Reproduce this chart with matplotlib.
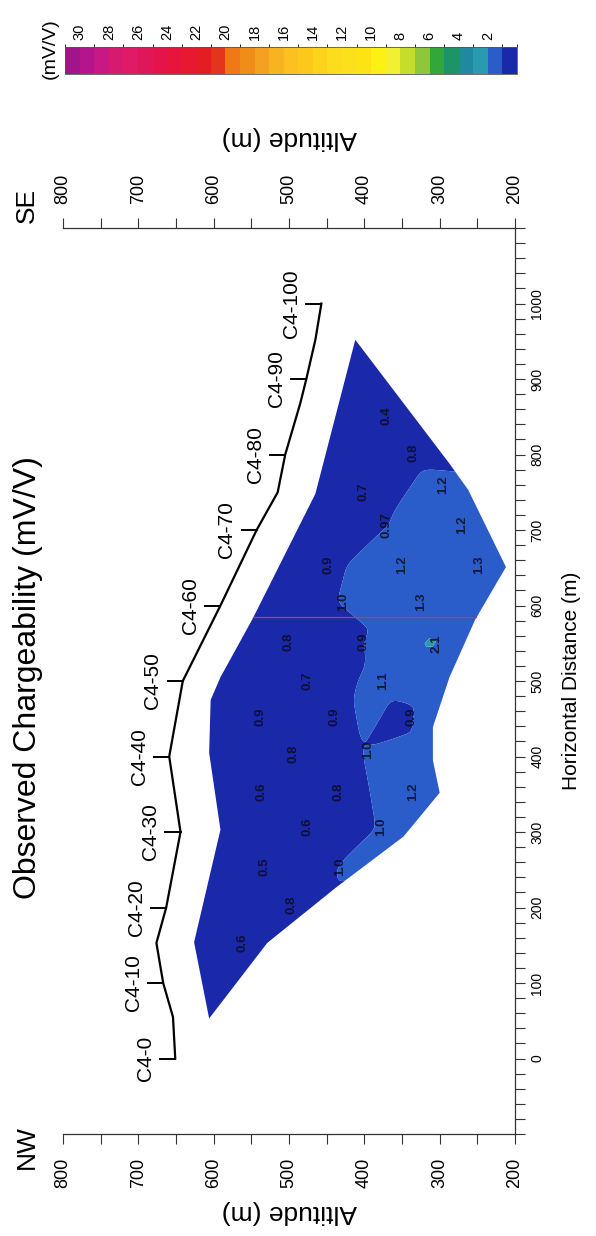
import numpy as np
import matplotlib
matplotlib.use("Agg")
import matplotlib.pyplot as plt
import matplotlib.tri as mtri
from matplotlib.colors import ListedColormap, BoundaryNorm
from matplotlib.cm import ScalarMappable
from matplotlib.patches import Polygon

plt.rcParams['font.family'] = ['Liberation Sans', 'DejaVu Sans']

# observed points: distance along line (m), altitude (m), chargeability (mV/V)
obs_dist = [852, 802, 751, 760, 707, 707, 654, 654, 654, 605, 605, 552, 552, 550,
            501, 501, 453, 453, 453, 404, 409, 353, 353, 353, 307, 307, 254, 254,
            203, 153]
obs_alt = [378, 343, 409, 303, 378, 278, 456, 358, 256, 436, 332, 509, 409, 312,
           484, 383, 546, 447, 345, 502, 403, 544, 442, 343, 484, 385, 540, 440,
           504, 569]
obs_val = [0.4, 0.8, 0.7, 1.2, 0.97, 1.2, 0.9, 1.2, 1.3, 1.0, 1.3, 0.8, 0.9, 2.1,
           0.7, 1.1, 0.9, 0.9, 0.9, 0.8, 1.0, 0.6, 0.8, 1.2, 0.6, 1.0, 0.5, 1.0,
           0.8, 0.6]

# outline of the gridded section (distance, altitude) and the value read at each corner
outline_dist = [53, 154, 303, 405, 475, 505, 583, 748, 952, 788, 753, 651, 581,
                505, 439, 395, 352, 294, 227, 153]
outline_alt = [606, 626, 591, 606, 604, 591, 548, 465, 412, 287, 262, 212, 253,
               287, 309, 309, 300, 348, 437, 529]
outline_val = [0.6, 0.6, 0.6, 0.8, 0.8, 0.8, 0.8, 0.7, 0.4, 0.9, 1.2, 1.3, 1.4,
               1.3, 1.3, 1.2, 1.2, 1.1, 1.0, 0.6]

# ground surface profile
topo_dist = [0, 55, 100, 153, 200, 300, 400, 500, 600, 700, 750, 800, 868, 900,
             952, 1000]
topo_alt = [651, 654, 667, 676, 663, 644, 659, 641, 591, 543, 515, 505, 485, 477,
            465, 457]

station_dist = [0, 100, 200, 300, 400, 500, 600, 700, 800, 900, 1000]
station_alt = [651, 667, 663, 644, 659, 641, 591, 543, 505, 477, 457]
station_names = ["C4-0", "C4-10", "C4-20", "C4-30", "C4-40", "C4-50", "C4-60",
                 "C4-70", "C4-80", "C4-90", "C4-100"]

# marker line across the section
mark_dist = 585
mark_alt = [548, 252]

# colour scale, from 0-1 up to 30-31 mV/V
scale_colors = ['#1a28aa', '#2a5cca', '#2a9ab0', '#2088a2', '#1c9468', '#32a83a',
                '#8cc83a', '#c8dc2a', '#f2f032', '#fcf014', '#fce414', '#fce01c',
                '#fcdc1c', '#fcd41c', '#fcc81c', '#fcc020', '#f8b420', '#f4a020',
                '#f08c18', '#f07818', '#e4341c', '#e41c24', '#e81830', '#e8143c',
                '#e4144a', '#e0165a', '#e01a64', '#d81a6e', '#c81884', '#b4148c',
                '#a0148c']
scale_bounds = np.arange(0, 32)

cmap = ListedColormap(scale_colors)
norm = BoundaryNorm(scale_bounds, cmap.N)


def gaussian_blur(z, sigma):
    r = int(3 * sigma)
    k = np.exp(-0.5 * (np.arange(-r, r + 1) / sigma) ** 2)
    k /= k.sum()
    zp = np.pad(z, r, mode='edge')
    zp = np.apply_along_axis(lambda v: np.convolve(v, k, mode='valid'), 0, zp)
    zp = np.apply_along_axis(lambda v: np.convolve(v, k, mode='valid'), 1, zp)
    return zp


fig = plt.figure(figsize=(5.96, 12.36), dpi=100)
ax = fig.add_axes([0.1057, 0.0825, 0.7584, 0.7330])

# grid the section: linear interpolation on the triangulated points, lightly smoothed
all_alt = np.array(obs_alt + outline_alt, float)
all_dist = np.array(obs_dist + outline_dist, float)
all_val = np.array(obs_val + outline_val, float)
tri = mtri.Triangulation(all_alt, all_dist)
interp = mtri.LinearTriInterpolator(tri, all_val)
grid_alt = np.arange(190, 650, 2.0)
grid_dist = np.arange(30, 980, 2.0)
GA, GD = np.meshgrid(grid_alt, grid_dist)
Z = interp(GA, GD).filled(np.nan)
for _ in range(20):
    miss = np.isnan(Z)
    if not miss.any():
        break
    acc = np.zeros_like(Z)
    cnt = np.zeros_like(Z)
    for sh, axn in [(1, 0), (-1, 0), (1, 1), (-1, 1)]:
        r = np.roll(Z, sh, axis=axn)
        ok = ~np.isnan(r)
        acc[ok] += r[ok]
        cnt[ok] += 1
    fill = miss & (cnt > 0)
    Z[fill] = acc[fill] / cnt[fill]
Z = np.nan_to_num(Z, nan=float(np.nanmean(Z)))
Z_smooth = gaussian_blur(Z, 3.0)
# keep the sharp local high unsmoothed so the single 2.1 reading still shows
Z_grid = np.where(Z > 2.0, Z, Z_smooth)

cs = ax.contourf(GA, GD, Z_grid, levels=scale_bounds, cmap=cmap, norm=norm,
                 antialiased=True)
clip = Polygon(np.column_stack([outline_alt, outline_dist]), closed=True,
               facecolor='none', edgecolor='none', transform=ax.transData)
ax.add_patch(clip)
cs.set_clip_path(clip)

ax.plot(mark_alt, [mark_dist, mark_dist], color='#e8302a', lw=0.9)

# readings, printed just below each observation point
for d, a, v in zip(obs_dist, obs_alt, obs_val):
    txt = f"{v:.2f}" if v == 0.97 else f"{v:.1f}"
    ax.annotate(txt, xy=(a, d), xytext=(4.3, 0), textcoords='offset points',
                rotation=90, ha='center', va='center', fontsize=9.5,
                fontweight='bold', color='#0a0a14', alpha=0.8)

# surface profile with station ticks
ax.plot(topo_alt, topo_dist, color='black', lw=1.6, solid_joinstyle='round')
for d, a, name in zip(station_dist, station_alt, station_names):
    ax.plot([a, a + 20], [d, d], color='black', lw=1.4)
    ax.annotate(name, xy=(a + 20, d), xytext=(-4, 0), textcoords='offset points',
                rotation=90, ha='right', va='center', fontsize=15)

ax.set_xlim(800, 200)
ax.set_ylim(-100, 1100)
ax.spines['left'].set_visible(False)
for s in ['top', 'bottom', 'right']:
    ax.spines[s].set_linewidth(0.9)
    ax.spines[s].set_color('#333333')

ax.set_xticks(np.arange(200, 801, 100))
ax.set_xticks(np.arange(200, 801, 50), minor=True)
ax.set_yticks(np.arange(0, 1001, 100))
ax.set_yticks(np.arange(-100, 1101, 20), minor=True)
ax.tick_params(axis='x', which='both', direction='out', length=7, width=0.8,
               color='#333333', top=True, labeltop=True, bottom=True,
               labelbottom=True, labelrotation=90, labelsize=13, pad=10)
ax.tick_params(axis='y', which='both', direction='out', length=7, width=0.8,
               color='#333333', left=False, labelleft=False, right=True,
               labelright=True, labelrotation=90, labelsize=10, pad=4)
for t in ax.get_yticklabels():
    t.set_va('center')

ax.text(0.5, -0.086, "Altitude (m)", transform=ax.transAxes, rotation=180,
        ha='center', va='center', fontsize=19)
ax.text(0.5, 1.099, "Altitude (m)", transform=ax.transAxes, rotation=180,
        ha='center', va='center', fontsize=19)
ax.text(1.124, 0.5, "Horizontal Distance (m)", transform=ax.transAxes,
        rotation=90, ha='center', va='center', fontsize=15)
ax.text(-0.080, -0.014, "NW", transform=ax.transAxes, rotation=90,
        ha='center', va='center', fontsize=19)
ax.text(-0.080, 1.025, "SE", transform=ax.transAxes, rotation=90,
        ha='center', va='center', fontsize=19)
ax.text(-0.077, 0.504, "Observed Chargeability (mV/V)", transform=ax.transAxes,
        rotation=90, ha='center', va='center', fontsize=23)

# colour scale
cax = fig.add_axes([0.1091, 0.9401, 0.7584, 0.0218])
cb = fig.colorbar(ScalarMappable(norm=norm, cmap=cmap), cax=cax,
                  orientation='horizontal', drawedges=True)
cax.invert_xaxis()
cb.dividers.set_color('#555555')
cb.dividers.set_linewidth(0.5)
cb.outline.set_linewidth(0.6)
cb.outline.set_edgecolor('#555555')
cb.set_ticks(np.arange(2, 31, 2))
cax.xaxis.set_ticks_position('top')
cax.tick_params(axis='x', length=0, labelsize=10.5, labelrotation=90, pad=5)
fig.text(50 / 596, 1 - 49 / 1236, "(mV/V)", rotation=90, ha='center',
         va='center', fontsize=14)

fig.savefig("out.png", dpi=100)
